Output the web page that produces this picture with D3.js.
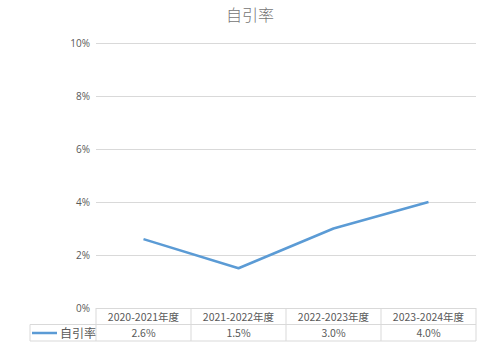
<!DOCTYPE html>
<html>
<head>
<meta charset="utf-8">
<script src="https://cdn.jsdelivr.net/npm/d3@7"></script>
<style>
  body { margin: 0; background: #fff; }
  text { font-family: "Noto Sans CJK SC", "Open Sans", sans-serif; }
</style>
</head>
<body>
<div id="chart"></div>
<script>
const title = "自引率";
const seriesName = "自引率";
const years = ["2020-2021年度", "2021-2022年度", "2022-2023年度", "2023-2024年度"];
const rates = [2.6, 1.5, 3.0, 4.0];
const yTicks = [0, 2, 4, 6, 8, 10];

const layout = {
    width: 487,
    height: 354,
    plotLeft: 96,
    plotRight: 476,
    plotTop: 43,
    plotBottom: 308,
    rowHeight: 16.5,
    legendLeft: 30
};

let svg = d3.select("#chart").append("svg")
    .attr("width", layout.width)
    .attr("height", layout.height);

// title
svg.append("text")
    .attr("x", 250)
    .attr("y", 21)
    .attr("text-anchor", "middle")
    .attr("font-size", 16)
    .attr("font-weight", 300)
    .attr("fill", "#757575")
    .text(title);

let xScale = d3.scaleBand()
    .domain(years)
    .range([layout.plotLeft, layout.plotRight]);

let yScale = d3.scaleLinear()
    .domain([0, 10])
    .range([layout.plotBottom, layout.plotTop]);

// gridlines + y labels
let yAxis = svg.append("g")
    .attr("transform", `translate(${layout.plotLeft},0)`)
    .call(d3.axisLeft(yScale)
        .tickValues(yTicks)
        .tickSize(-(layout.plotRight - layout.plotLeft))
        .tickPadding(6)
        .tickFormat(d => d + "%"));
yAxis.select(".domain").remove();
yAxis.selectAll("line").attr("stroke", "#d9d9d9").attr("stroke-width", 1);
yAxis.selectAll("text")
    .attr("fill", "#595959")
    .attr("font-size", 10)
    .style("font-family", "'Open Sans', sans-serif");

// data table
let tableTop = layout.plotBottom;
let r1 = tableTop + layout.rowHeight;
let r2 = r1 + layout.rowHeight;
let tbl = svg.append("g").attr("stroke", "#d9d9d9").attr("stroke-width", 1);
tbl.append("line").attr("x1", layout.legendLeft).attr("x2", layout.plotRight).attr("y1", r1).attr("y2", r1);
tbl.append("line").attr("x1", layout.legendLeft).attr("x2", layout.plotRight).attr("y1", r2).attr("y2", r2);
tbl.append("line").attr("x1", layout.legendLeft).attr("x2", layout.legendLeft).attr("y1", r1).attr("y2", r2);
let edges = years.map(d => xScale(d)).concat([layout.plotRight]);
tbl.selectAll(".vline").data(edges).join("line")
    .attr("class", "vline")
    .attr("x1", d => d).attr("x2", d => d)
    .attr("y1", tableTop).attr("y2", r2);

svg.selectAll(".cat").data(years).join("text")
    .attr("class", "cat")
    .attr("x", d => xScale(d) + xScale.bandwidth() / 2)
    .attr("y", tableTop + 12.5)
    .attr("text-anchor", "middle")
    .attr("font-size", 10.5)
    .attr("fill", "#595959")
    .text(d => d);

svg.selectAll(".val").data(rates).join("text")
    .attr("class", "val")
    .attr("x", (d, i) => xScale(years[i]) + xScale.bandwidth() / 2)
    .attr("y", r1 + 12.5)
    .attr("text-anchor", "middle")
    .attr("font-size", 10.5)
    .attr("fill", "#595959")
    .text(d => d.toFixed(1) + "%");

// legend key
svg.append("line")
    .attr("x1", 32).attr("x2", 57)
    .attr("y1", r1 + 8.5).attr("y2", r1 + 8.5)
    .attr("stroke", "#5b9bd5")
    .attr("stroke-width", 2.5);
svg.append("text")
    .attr("x", 60)
    .attr("y", r1 + 13)
    .attr("font-size", 12)
    .attr("fill", "#595959")
    .text(seriesName);

// the line
svg.append("path")
    .datum(rates)
    .attr("fill", "none")
    .attr("stroke", "#5b9bd5")
    .attr("stroke-width", 2.5)
    .attr("stroke-linejoin", "round")
    .attr("d", d3.line()
        .x((d, i) => xScale(years[i]) + xScale.bandwidth() / 2)
        .y(d => yScale(d)));
</script>
</body>
</html>
